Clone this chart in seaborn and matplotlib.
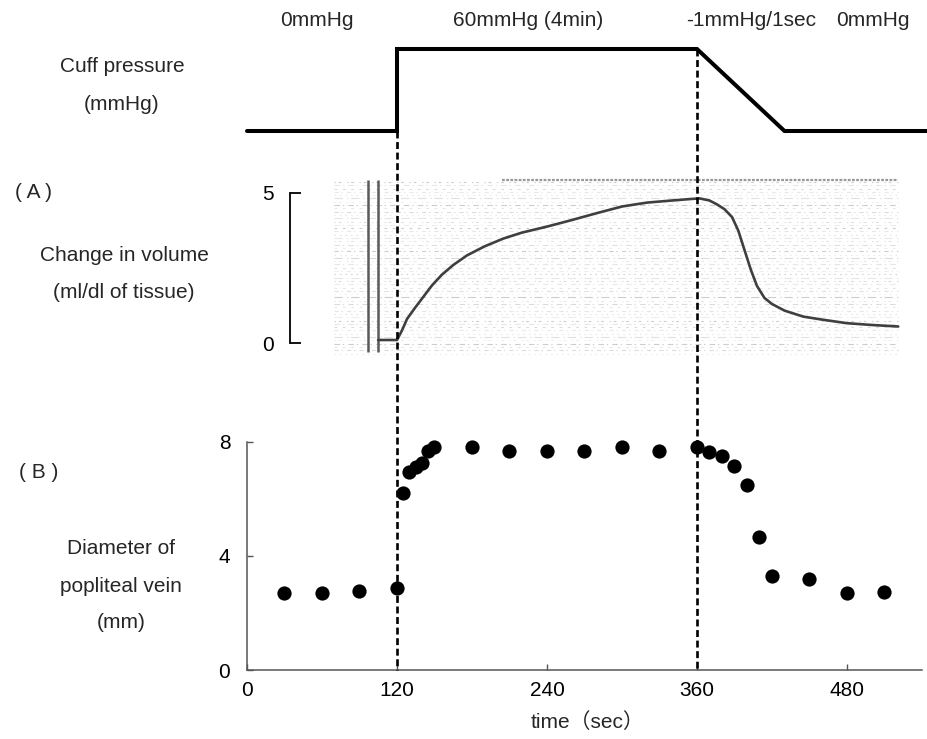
import matplotlib
matplotlib.use("Agg")
import matplotlib.pyplot as plt
from matplotlib.lines import Line2D
from matplotlib.transforms import blended_transform_factory
import seaborn as sns
import numpy as np

# ---- data -------------------------------------------------------------
# cuff pressure protocol (sec, mmHg)
cuff_time = [0, 120, 120, 360, 430, 545]
cuff_pressure = [0, 0, 60, 60, 0, 0]
phase_labels = ["0mmHg", "60mmHg (4min)", "-1mmHg/1sec", "0mmHg"]

# (A) plethysmographic change in volume (ml/dl of tissue)
vol_time = [105, 120, 124, 128, 134, 140, 148, 156, 165, 176, 190, 205, 220,
            240, 260, 280, 300, 320, 340, 355, 362, 370, 376, 382, 388, 393,
            398, 403, 408, 414, 420, 430, 445, 460, 480, 500, 521]
vol_change = [0.1, 0.1, 0.42, 0.8, 1.15, 1.48, 1.92, 2.28, 2.6, 2.92, 3.22,
              3.48, 3.68, 3.88, 4.1, 4.33, 4.55, 4.68, 4.75, 4.8, 4.82, 4.75,
              4.62, 4.46, 4.2, 3.75, 3.1, 2.45, 1.9, 1.5, 1.3, 1.08, 0.88,
              0.78, 0.66, 0.6, 0.55]
calib_time = [97, 105]

# (B) diameter of popliteal vein (mm)
diam_time = [30, 60, 90, 120, 125, 130, 135, 140, 145, 150, 180, 210, 240,
             270, 300, 330, 360, 370, 380, 390, 400, 410, 420, 450, 480, 510]
diam_mm = [2.71, 2.71, 2.77, 2.89, 6.19, 6.95, 7.12, 7.26, 7.68, 7.80, 7.80,
           7.68, 7.68, 7.68, 7.83, 7.68, 7.83, 7.65, 7.50, 7.15, 6.48, 4.65,
           3.31, 3.18, 2.71, 2.75]

time_ticks = [0, 120, 240, 360, 480]
cuff_events = [120, 360]

# ---- style ------------------------------------------------------------
sns.set_theme(style="white")
plt.rcParams["font.family"] = ["Liberation Sans", "Noto Sans CJK JP", "DejaVu Sans"]
plt.rcParams["lines.scale_dashes"] = False
FS = 15

W, H = 928, 739
fig = plt.figure(figsize=(W / 100, H / 100), dpi=100)


def fx(x):
    return x / W


def fy(y):
    return 1 - y / H


left, right = 247, 922
ax_top = fig.add_axes([fx(left), fy(131), fx(right) - fx(left), fy(49) - fy(131)])
ax_a = fig.add_axes([fx(left), fy(358), fx(right) - fx(left), fy(178) - fy(358)])
ax_b = fig.add_axes([fx(left), fy(670), fx(right) - fx(left), fy(441.7) - fy(670)])
XMAX = 540

# ---- cuff pressure trace ---------------------------------------------
sns.lineplot(x=cuff_time, y=cuff_pressure, ax=ax_top, sort=False,
             estimator=None, color="black", lw=2.9)
for ln in ax_top.lines:
    ln.set_clip_on(False)
    ln.set_solid_joinstyle("miter")
ax_top.set_xlim(0, XMAX)
ax_top.set_ylim(0, 60)
ax_top.axis("off")

for txt, xc in zip(phase_labels, [317, 528, 751, 873]):
    fig.text(fx(xc), fy(21), txt, ha="center", va="center", fontsize=FS)

# ---- (A) strip chart --------------------------------------------------
# chart-paper texture behind the trace: rows of broken grey rulings
dash_styles = [(0, (1, 3)), (0, (3, 2, 1, 3)), (0, (2, 4)), (0, (4, 2, 1, 3)),
               (0, (1, 2, 2, 4)), (0, (6, 3, 1, 2))]
alphas = [0.18, 0.3, 0.2, 0.42, 0.15, 0.26, 0.22]
levels = np.arange(-0.35, 5.4, 0.11)
for i, lv in enumerate(levels):
    ax_a.plot([70, 521], [lv, lv], color="#8a8a8a", lw=0.8,
              ls=dash_styles[i % len(dash_styles)], alpha=alphas[i % len(alphas)],
              zorder=1)
ax_a.plot([204, 521], [5.43, 5.43], color="#555555", lw=1.6,
          ls=(0, (2, 1)), alpha=0.6, zorder=1)
ax_a.vlines(calib_time, -0.3, 5.45, color="#5a5a5a", lw=1.8, zorder=2)

sns.lineplot(x=vol_time, y=vol_change, ax=ax_a, color="#3f3f3f", lw=1.9,
             estimator=None, zorder=3)
ax_a.set_xlim(0, XMAX)
ax_a.set_ylim(-0.5, 5.5)
for s in ["top", "right", "bottom"]:
    ax_a.spines[s].set_visible(False)
ax_a.spines["left"].set_position(("data", 34.5))
ax_a.spines["left"].set_bounds(0, 5)
ax_a.spines["left"].set_color("black")
ax_a.spines["left"].set_linewidth(1.3)
ax_a.set_xticks([])
ax_a.set_yticks([0, 5])
ax_a.set_yticklabels(["0", "5"])
ax_a.tick_params(axis="y", direction="in", length=8, width=1.3, pad=12,
                 labelsize=FS, left=True, colors="black")
ax_a.set_xlabel("")
ax_a.set_ylabel("")

# ---- (B) vein diameter ------------------------------------------------
sns.scatterplot(x=diam_time, y=diam_mm, ax=ax_b, s=105, color="black",
                edgecolor="black", linewidth=0, clip_on=False, zorder=4)
ax_b.set_xlim(0, XMAX)
ax_b.set_ylim(0, 8)
for s in ["top", "right"]:
    ax_b.spines[s].set_visible(False)
for s in ["left", "bottom"]:
    ax_b.spines[s].set_color("#555555")
    ax_b.spines[s].set_linewidth(1.1)
ax_b.set_xticks(time_ticks)
ax_b.set_yticks([0, 4, 8])
ax_b.tick_params(axis="both", direction="in", length=4, width=1, labelsize=FS,
                 colors="#555555", labelcolor="black", left=True, bottom=True)
ax_b.tick_params(axis="y", pad=12)
ax_b.tick_params(axis="x", pad=8)
ax_b.set_xlabel("")
ax_b.set_ylabel("")

# ---- cuff event markers spanning all panels ---------------------------
trans = blended_transform_factory(ax_b.transData, fig.transFigure)
for t, top in zip(cuff_events, [131, 49]):
    fig.add_artist(Line2D([t, t], [fy(top), fy(670)], transform=trans,
                          color="black", lw=1.9, dashes=(5, 2.6), zorder=5))

# ---- side labels ------------------------------------------------------
side = [
    (122, 66, "Cuff pressure"), (122, 105, "(mmHg)"),
    (34, 193, "( A )"),
    (124, 255, "Change in volume"), (124, 293, "(ml/dl of tissue)"),
    (39, 472, "( B )"),
    (121, 548, "Diameter of"), (121, 587, "popliteal vein"), (121, 623, "(mm)"),
]
for xc, yc, txt in side:
    fig.text(fx(xc), fy(yc), txt, ha="center", va="center", fontsize=FS)

fig.text(fx(588), fy(722), "time（sec）", ha="center", va="center", fontsize=FS)

fig.savefig("out.png", dpi=100, facecolor="white")
